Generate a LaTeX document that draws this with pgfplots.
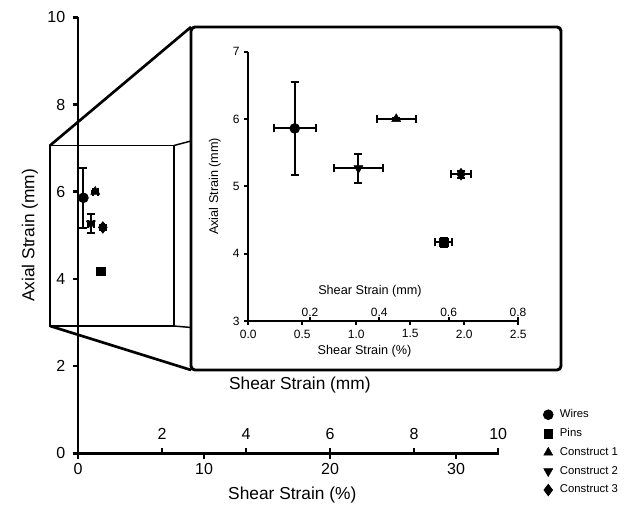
\documentclass[border=0pt]{standalone}
\usepackage{fontspec}
\setmainfont{Liberation Sans}
\usepackage{pgfplots}
\usepackage{pgfplotstable}
\pgfplotsset{compat=1.18}

% shear strain in %, axial strain in mm, +- error
\pgfplotstableread{
x    ex    y    ey
0.43 0.195 5.86 0.69
}\wires
\pgfplotstableread{
x    ex    y    ey
1.81 0.08  4.17 0.07
}\pins
\pgfplotstableread{
x    ex    y    ey
1.37 0.18  6.00 0.02
}\consta
\pgfplotstableread{
x    ex    y    ey
1.02 0.225 5.27 0.215
}\constb
\pgfplotstableread{
x    ex    y    ey
1.97 0.095 5.18 0.05
}\constc

\pgfplotsset{
  base/.style={scale only axis, clip=false,
    axis x line=bottom, axis y line=left,
    axis line style={-}, tick align=outside,
    /pgf/number format/assume math mode=true},
  big/.style={base, width=315.75pt, height=327pt,
    axis line style={line width=2pt},
    every tick/.style={black, line width=2pt}, major tick length=4pt,
    tick label style={font=\fontsize{12}{14}\selectfont},
    yticklabel style={xshift=-2pt},
    label style={font=\fontsize{13}{15}\selectfont}},
  small/.style={base, width=203.25pt, height=202pt,
    axis line style={line width=1.5pt},
    every tick/.style={black, line width=1.5pt}, major tick length=3pt,
    tick label style={font=\fontsize{9}{11}\selectfont},
    label style={font=\fontsize{9.5}{11}\selectfont}},
  pt/.style={only marks, black, mark options={solid, fill=black},
    error bars/x dir=both, error bars/x explicit,
    error bars/y dir=both, error bars/y explicit,
    error bars/error bar style={line width=1.5pt},
    error bars/error mark=-,
    error bars/error mark options={rotate=90, black, line width=1.5pt, mark size=3pt}},
}

\newcommand\series{
  \addplot[pt, mark=*, mark size=3.75pt] table[x=x, y=y, x error=ex, y error=ey]{\wires};
  \addplot[pt, mark=square*, mark size=3.2pt] table[x=x, y=y, x error=ex, y error=ey]{\pins};
  \addplot[pt, mark=triangle*, mark size=3.9pt] table[x=x, y=y, x error=ex, y error=ey]{\consta};
  \addplot[pt, mark=triangle*, mark size=3.9pt, mark options={rotate=180}] table[x=x, y=y, x error=ex, y error=ey]{\constb};
  \addplot[pt, mark=diamond*, mark size=4.4pt] table[x=x, y=y, x error=ex, y error=ey]{\constc};
}

% pixel (from top-left) to pt
\newcommand\px[2]{({#1*0.75pt},{-#2*0.75pt})}

\begin{document}
\begin{tikzpicture}
\path[use as bounding box] \px{0}{0} rectangle \px{644}{505};

% zoom box in the main chart
\draw[line width=0.8pt] \px{50}{145.5} rectangle \px{174}{326};
\draw[line width=1.1pt] \px{174}{145.5} -- \px{191}{141} \px{174}{326} -- \px{191}{327.5};
\draw[line width=2pt] \px{50}{145.5} -- \px{191}{27} \px{50}{326} -- \px{191}{370};

% main axis, shear strain in %
\begin{axis}[big, at={(58.5pt,-339.975pt)}, anchor=south west,
  xmin=0, xmax=33.4, ymin=0, ymax=10,
  xtick={0,10,20,30}, ytick={0,2,...,10},
  xlabel={Shear Strain (\%)}, ylabel={Axial Strain (mm)},
  xlabel style={at={(axis description cs:0.509,-0.096)}, anchor=center},
  ylabel style={at={(axis description cs:-0.114,0.5)}, anchor=center},
  legend style={draw=none, fill=none, at={(axis description cs:1.095,0.113)}, anchor=north west,
    font=\fontsize{8.5}{10}\selectfont, row sep=2.6pt, column sep=3pt},
  legend cell align=left]
\series
\legend{Wires, Pins, Construct 1, Construct 2, Construct 3}
\end{axis}

% main axis, shear strain in mm (ticks and labels above the line)
\begin{axis}[big, at={(58.5pt,-339.975pt)}, anchor=south west,
  xmin=0, xmax=10.02, ymin=0, ymax=10, hide y axis,
  tick align=inside, xtick={2,4,6,8,10},
  xticklabel style={anchor=south, yshift=6.5pt},
  xlabel={Shear Strain (mm)},
  xlabel style={at={(axis description cs:0.527,0.156)}, anchor=center}]
\end{axis}

% inset frame
\draw[line width=2.2pt, rounded corners=3pt, fill=white] \px{191}{27} rectangle \px{561}{370};

% inset, shear strain in %
\begin{axis}[small, at={(186.225pt,-240.75pt)}, anchor=south west,
  xmin=0, xmax=2.51, ymin=3, ymax=7,
  xtick={0,0.5,...,2.5}, ytick={3,...,7},
  xticklabel style={/pgf/number format/.cd, fixed, fixed zerofill, precision=1},
  xlabel={Shear Strain (\%)}, ylabel={Axial Strain (mm)},
  xlabel style={at={(axis description cs:0.429,-0.114)}, anchor=center},
  ylabel style={at={(axis description cs:-0.123,0.5)}, anchor=center}]
\series
\end{axis}

% inset, shear strain in mm
\begin{axis}[small, at={(186.225pt,-240.75pt)}, anchor=south west,
  xmin=0.022, xmax=0.804, ymin=3, ymax=7, hide y axis,
  tick align=inside, xtick={0.2,0.4,0.6,0.8},
  xticklabel style={anchor=south, yshift=0pt,
    /pgf/number format/.cd, fixed, fixed zerofill, precision=1},
  xlabel={Shear Strain (mm)},
  xlabel style={at={(axis description cs:0.449,0.109)}, anchor=center}]
\end{axis}
\end{tikzpicture}
\end{document}
